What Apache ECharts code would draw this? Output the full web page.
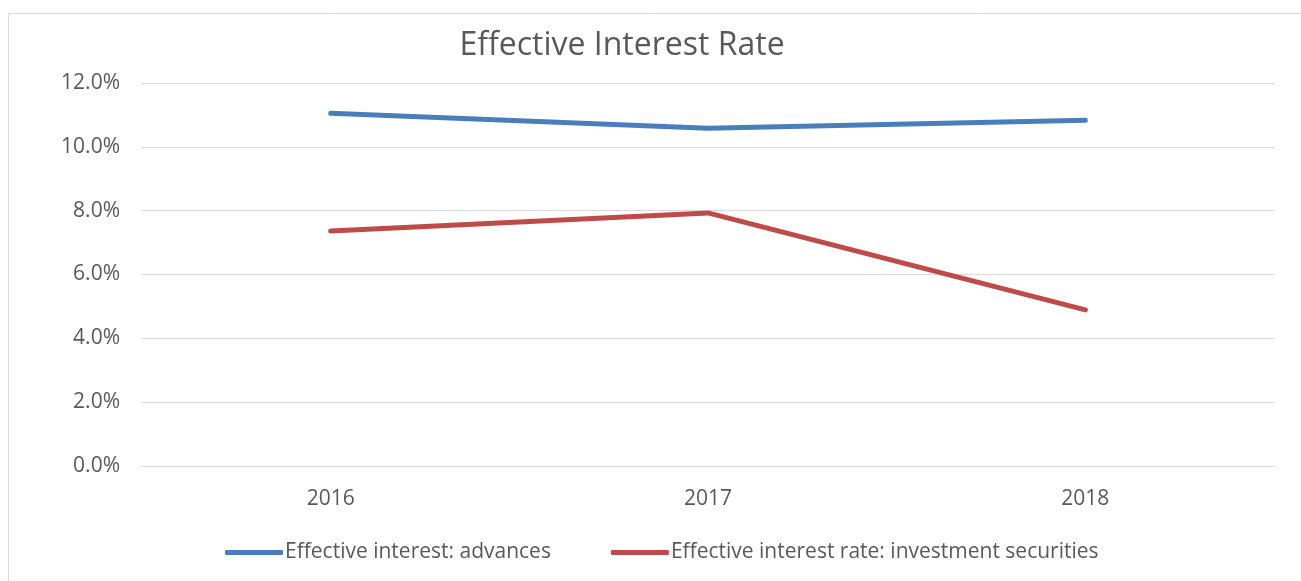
<!DOCTYPE html>
<html>
<head>
<meta charset="utf-8">
<script src="https://cdn.jsdelivr.net/npm/echarts@6/dist/echarts.min.js"></script>
<style>
  html, body { margin: 0; padding: 0; background: #fff; }
  #chart { width: 1301px; height: 581px; }
</style>
</head>
<body>
<div id="chart"></div>
<script>
// Effective interest rates by year (percent)
const years = ['2016', '2017', '2018'];
const advances = [11.05, 10.58, 10.83];
const investmentSecurities = [7.36, 7.93, 4.89];
const seriesNames = ['Effective interest: advances', 'Effective interest rate: investment securities'];
const titleText = 'Effective Interest Rate';

const FONT = '"Open Sans", "Noto Sans", sans-serif';
const chart = echarts.init(document.getElementById('chart'), null, { renderer: 'canvas' });

chart.setOption({
  backgroundColor: '#ffffff',
  animation: false,
  graphic: [{
    type: 'rect',
    shape: { x: 8.5, y: 13.5, width: 1400, height: 700 },
    style: { fill: 'none', stroke: '#d9d9d9', lineWidth: 1 },
    silent: true,
    z: -1
  }],
  title: {
    text: titleText,
    left: 617,
    textAlign: 'center',
    top: 25,
    textStyle: { fontFamily: FONT, fontSize: 32, fontWeight: 'normal', color: '#595959' }
  },
  legend: {
    data: seriesNames,
    left: 220,
    top: 537,
    itemWidth: 58,
    itemHeight: 5,
    itemGap: 60,
    icon: 'roundRect',
    textStyle: { fontFamily: FONT, fontSize: 21, color: '#595959', padding: [0, 0, 0, -3] }
  },
  grid: { left: 142, right: 27, top: 83, bottom: 115 },
  xAxis: {
    type: 'category',
    data: years,
    boundaryGap: true,
    axisLine: { show: true, lineStyle: { color: '#d9d9d9', width: 1 } },
    axisTick: { show: false },
    axisLabel: { fontFamily: FONT, fontSize: 21, color: '#595959', margin: 23 }
  },
  yAxis: {
    type: 'value',
    min: 0,
    max: 12,
    interval: 2,
    axisLine: { show: false },
    axisTick: { show: false },
    splitLine: { lineStyle: { color: '#d9d9d9', width: 1 } },
    axisLabel: {
      fontFamily: FONT, fontSize: 21, color: '#595959', margin: 22,
      formatter: v => v.toFixed(1) + '%'
    }
  },
  series: [
    {
      name: seriesNames[0],
      type: 'line',
      data: advances,
      symbol: 'none',
      lineStyle: { color: '#4a7ebb', width: 5, cap: 'round' },
      itemStyle: { color: '#4a7ebb' }
    },
    {
      name: seriesNames[1],
      type: 'line',
      data: investmentSecurities,
      symbol: 'none',
      lineStyle: { color: '#be4b48', width: 5, cap: 'round' },
      itemStyle: { color: '#be4b48' }
    }
  ]
});
</script>
</body>
</html>
